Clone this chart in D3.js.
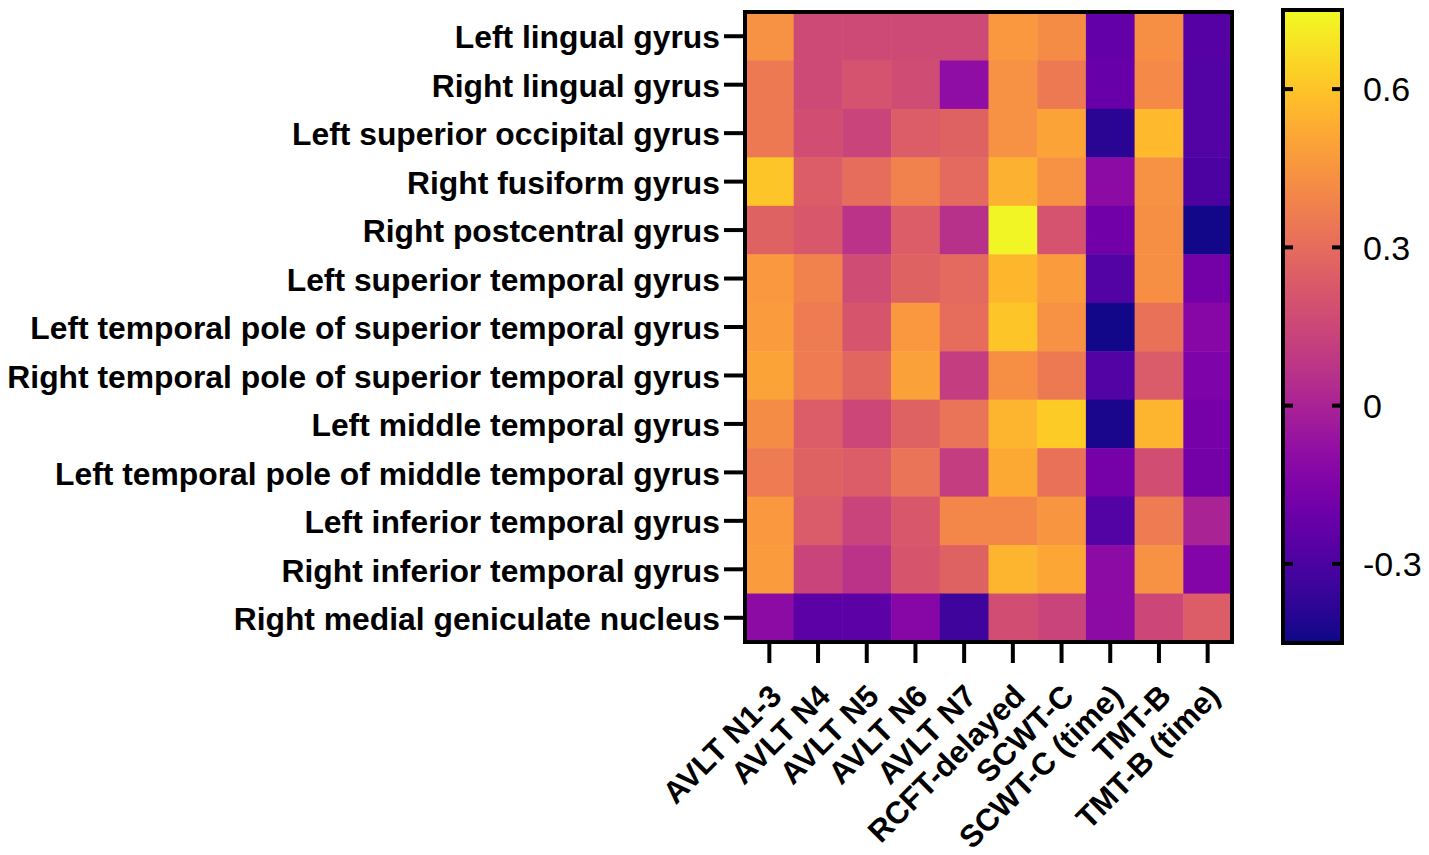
<!DOCTYPE html>
<html><head><meta charset="utf-8">
<script src="https://cdn.jsdelivr.net/npm/d3@7"></script>
<style>html,body{margin:0;padding:0;background:#fff;}svg{display:block;}</style>
</head><body><svg id="chart" width="1429" height="855"></svg>
<script>
const regions = ["Left lingual gyrus","Right lingual gyrus","Left superior occipital gyrus","Right fusiform gyrus","Right postcentral gyrus","Left superior temporal gyrus","Left temporal pole of superior temporal gyrus","Right temporal pole of superior temporal gyrus","Left middle temporal gyrus","Left temporal pole of middle temporal gyrus","Left inferior temporal gyrus","Right inferior temporal gyrus","Right medial geniculate nucleus"];
const tests = ["AVLT N1-3","AVLT N4","AVLT N5","AVLT N6","AVLT N7","RCFT-delayed","SCWT-C","SCWT-C (time)","TMT-B","TMT-B (time)"];
// correlation values, one array per region (columns follow `tests`)
const r01 = [0.44,0.16,0.16,0.16,0.16,0.46,0.42,-0.23,0.43,-0.27];
const r02 = [0.35,0.16,0.20,0.17,-0.09,0.44,0.35,-0.22,0.41,-0.28];
const r03 = [0.35,0.18,0.14,0.24,0.26,0.44,0.50,-0.39,0.57,-0.28];
const r04 = [0.60,0.24,0.30,0.38,0.29,0.54,0.44,-0.10,0.44,-0.30];
const r05 = [0.26,0.22,0.07,0.24,0.06,0.74,0.20,-0.19,0.43,-0.44];
const r06 = [0.46,0.38,0.17,0.26,0.29,0.56,0.47,-0.28,0.43,-0.18];
const r07 = [0.47,0.36,0.21,0.46,0.30,0.60,0.44,-0.44,0.32,-0.12];
const r08 = [0.50,0.36,0.28,0.49,0.11,0.43,0.35,-0.28,0.23,-0.15];
const r09 = [0.42,0.24,0.15,0.26,0.33,0.55,0.62,-0.43,0.55,-0.17];
const r10 = [0.36,0.26,0.24,0.33,0.11,0.52,0.32,-0.17,0.18,-0.18];
const r11 = [0.46,0.23,0.14,0.22,0.40,0.40,0.45,-0.28,0.36,0.00];
const r12 = [0.47,0.14,0.07,0.21,0.26,0.55,0.51,-0.10,0.44,-0.13];
const r13 = [-0.10,-0.25,-0.25,-0.12,-0.34,0.18,0.14,-0.10,0.15,0.24];
const values = [r01,r02,r03,r04,r05,r06,r07,r08,r09,r10,r11,r12,r13];
const colorDomain = [-0.45, 0.75];
const colorTicks = [-0.3, 0, 0.3, 0.6];
const colorTickLabels = ["-0.3", "0", "0.3", "0.6"];

const svg = d3.select("#chart");
const FONT = "Arial, 'Liberation Sans', Helvetica, sans-serif";
const plot = {left:745, right:1232, top:12, bottom:642};
const cb = {left:1283, right:1342, top:10, bottom:643};

const x = d3.scaleBand().domain(tests).range([plot.left, plot.right]);
const y = d3.scaleBand().domain(regions).range([plot.top, plot.bottom]);
const color = d3.scaleSequential(d3.interpolatePlasma).domain(colorDomain);

const cells = [];
values.forEach((row,i)=>row.forEach((v,j)=>cells.push({r:regions[i],t:tests[j],v})));
svg.append("g").selectAll("rect").data(cells).join("rect")
  .attr("x",d=>x(d.t)).attr("y",d=>y(d.r))
  .attr("width",x.bandwidth()+0.5).attr("height",y.bandwidth()+0.5)
  .attr("fill",d=>color(d.v));
svg.append("rect").attr("x",plot.left).attr("y",plot.top)
  .attr("width",plot.right-plot.left).attr("height",plot.bottom-plot.top)
  .attr("fill","none").attr("stroke","#000").attr("stroke-width",4);

// y axis
const yAxis = svg.append("g").attr("transform",`translate(${plot.left},0)`)
  .call(d3.axisLeft(y).tickSize(21).tickPadding(4));
yAxis.select(".domain").remove();
yAxis.selectAll(".tick line").attr("stroke","#000").attr("stroke-width",4);
yAxis.selectAll(".tick text").attr("font-family",FONT).attr("font-weight","bold")
  .attr("font-size",32).attr("fill","#000").attr("dy","0.35em");
// fit longest label into reference width
let maxW = 0;
yAxis.selectAll(".tick text").each(function(){maxW=Math.max(maxW,this.getComputedTextLength());});
const sx = 713/maxW;
yAxis.selectAll(".tick text").attr("x",null).attr("transform",`translate(${-25},1) scale(${sx},1)`);

// x axis
const xAxis = svg.append("g").attr("transform",`translate(0,${plot.bottom})`)
  .call(d3.axisBottom(x).tickSize(21).tickPadding(4));
xAxis.select(".domain").remove();
xAxis.selectAll(".tick line").attr("stroke","#000").attr("stroke-width",4);
xAxis.selectAll(".tick text").attr("font-family",FONT).attr("font-weight","bold")
  .attr("font-size",31).attr("fill","#000")
  .attr("text-anchor","end").attr("y",null).attr("dy",null)
  .attr("transform","translate(14,56) rotate(-45)");

// colorbar
const cy = d3.scaleLinear().domain(colorDomain).range([cb.bottom, cb.top]);
const defs = svg.append("defs");
const grad = defs.append("linearGradient").attr("id","cbgrad")
  .attr("x1",0).attr("y1",1).attr("x2",0).attr("y2",0);
d3.range(0,1.0001,0.05).forEach(t=>{
  grad.append("stop").attr("offset",t).attr("stop-color",color(colorDomain[0]+t*(colorDomain[1]-colorDomain[0])));
});
svg.append("rect").attr("x",cb.left).attr("y",cb.top).attr("width",cb.right-cb.left)
  .attr("height",cb.bottom-cb.top).attr("fill","url(#cbgrad)")
  .attr("stroke","#000").attr("stroke-width",4);
const cbt = svg.append("g");
colorTicks.forEach((v,i)=>{
  cbt.append("line").attr("x1",cb.left).attr("x2",cb.left+10).attr("y1",cy(v)).attr("y2",cy(v))
    .attr("stroke","#000").attr("stroke-width",4);
  cbt.append("line").attr("x1",cb.right-10).attr("x2",cb.right).attr("y1",cy(v)).attr("y2",cy(v))
    .attr("stroke","#000").attr("stroke-width",4);
  cbt.append("text").attr("x",cb.left+80).attr("y",cy(v)).attr("dy","0.36em")
    .attr("font-family",FONT).attr("font-size",34).attr("fill","#000")
    .attr("text-anchor","start")
    .text(colorTickLabels[i]);
});
</script></body></html>
